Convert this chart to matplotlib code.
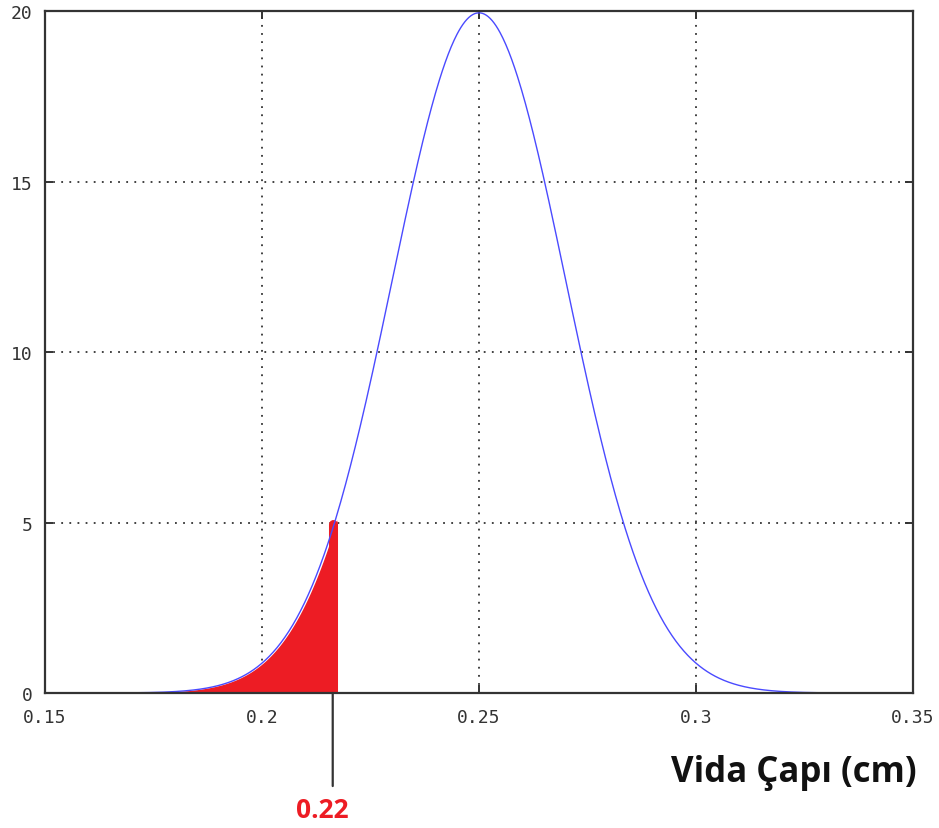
import numpy as np
import matplotlib
matplotlib.use("Agg")
import matplotlib.pyplot as plt

# Normal distribution of screw diameter (cm)
mean_cm = 0.25
std_cm = 0.02
curve_range = [0.16, 0.34]
fill_end = 0.2173            # where the shaded tail ends
cutoff_value = 0.2163        # marked value on the axis
cutoff_height = 5.0          # top of the red stub at the cutoff
cutoff_label = "0.22"

x_ticks = [0.15, 0.2, 0.25, 0.3, 0.35]
x_tick_labels = ["0.15", "0.2", "0.25", "0.3", "0.35"]
y_ticks = [0, 5, 10, 15, 20]
y_tick_labels = ["0", "5", "10", "15", "20"]
x_label = "Vida Çapı (cm)"


def pdf(x):
    return np.exp(-0.5 * ((x - mean_cm) / std_cm) ** 2) / (std_cm * np.sqrt(2 * np.pi))


fig = plt.figure(figsize=(9.39, 8.29), dpi=100)
ax = fig.add_axes([0.0479, 0.1628, 0.9244, 0.8227])

xs = np.linspace(curve_range[0], curve_range[1], 800)
xf = np.linspace(curve_range[0], fill_end, 400)

red = "#ed1c24"
ax.fill_between(xf, 0, pdf(xf) * 0.97, color=red, linewidth=0, zorder=2)
ax.plot([cutoff_value, cutoff_value], [0, cutoff_height - 0.05], color=red,
        linewidth=6.5, solid_capstyle="round", zorder=2)
ax.plot(xs, pdf(xs), color="#4a4aff", linewidth=1.0, zorder=3)

ax.set_xlim(0.15, 0.35)
ax.set_ylim(0, 20)
ax.set_xticks(x_ticks)
ax.set_xticklabels(x_tick_labels)
ax.set_yticks(y_ticks)
ax.set_yticklabels(y_tick_labels)

ax.grid(True, color="#333333", linestyle=(0, (1, 3.5)), linewidth=1.3)
ax.set_axisbelow(True)
for s in ax.spines.values():
    s.set_color("#333333")
    s.set_linewidth(1.6)
    s.set_zorder(4)
ax.tick_params(direction="in", length=6, width=1.4, color="#333333",
               top=True, right=True, labelcolor="#333333")
ax.tick_params(axis="x", pad=11)
ax.tick_params(axis="y", pad=9)
for lab in ax.get_xticklabels() + ax.get_yticklabels():
    lab.set_fontfamily("DejaVu Sans Mono")
    lab.set_fontsize(13)

# cutoff marker below the axis
ax.annotate("", xy=(cutoff_value, 0), xycoords="data",
            xytext=(cutoff_value, -93), textcoords=("data", "offset pixels"),
            arrowprops=dict(arrowstyle="-", color="#333333", lw=1.6,
                            shrinkA=0, shrinkB=0), annotation_clip=False)
ax.annotate(cutoff_label, xy=(cutoff_value, 0), xycoords="data",
            xytext=(-10, -116), textcoords="offset pixels",
            ha="center", va="center", color=red, fontsize=19,
            fontweight="bold", family="Open Sans", annotation_clip=False)

fig.text(794 / 939, 1 - 773 / 829, x_label, ha="center", va="center",
         fontsize=25, fontweight="bold", family="Open Sans", color="#111111")

fig.savefig("out.png", dpi=100)
